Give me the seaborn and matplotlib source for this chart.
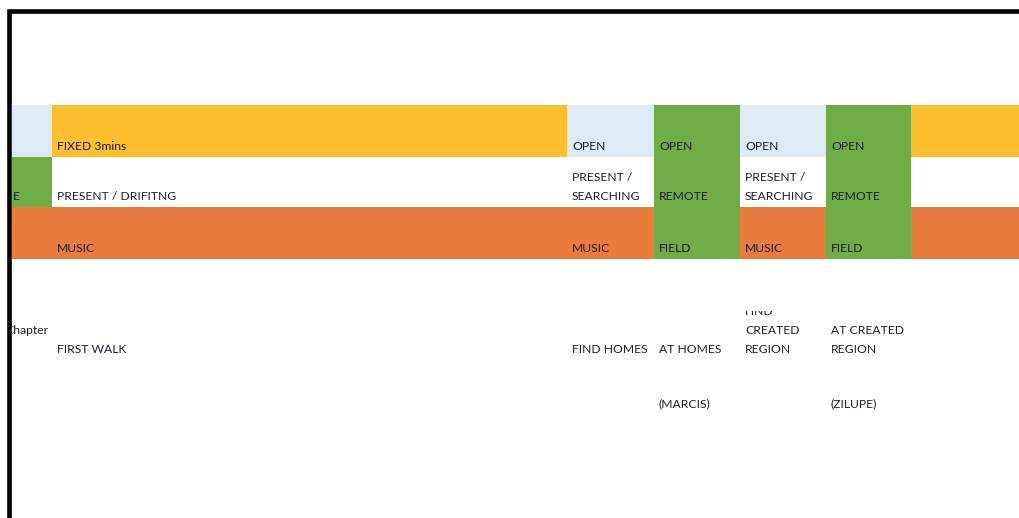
import numpy as np
import pandas as pd
import matplotlib
import matplotlib.pyplot as plt
from matplotlib.colors import ListedColormap
from matplotlib.patches import Rectangle
import seaborn as sns

# cell colours of the three coloured bands (one list per row)
band_fixed = ["blue", "yellow", "blue", "green", "blue", "green", "yellow"]
band_state = ["green", "white", "white", "green", "white", "green", "white"]
band_sound = ["orange", "orange", "orange", "green", "orange", "green", "orange"]

# cell texts
text_fixed = ["", "FIXED 3mins", "OPEN", "OPEN", "OPEN", "OPEN", ""]
text_state = ["E", "PRESENT / DRIFITNG", "PRESENT /\nSEARCHING", "REMOTE",
              "PRESENT /\nSEARCHING", "REMOTE", ""]
text_sound = ["", "MUSIC", "MUSIC", "FIELD", "MUSIC", "FIELD", ""]
text_chapter = ["Chapter\n", "FIRST WALK", "FIND HOMES", "AT HOMES",
                "FIND\nCREATED\nREGION", "AT CREATED\nREGION", ""]
text_place = ["", "", "", "(MARCIS)", "", "(ZILUPE)", ""]

palette = {"white": "#ffffff", "blue": "#ddebf7", "yellow": "#fcbf2e",
           "green": "#70ad47", "orange": "#e97c3c"}

# sheet layout in pixels
col_edges = [12, 52, 567, 654, 740, 826, 911, 1019]
row_edges = [105, 157, 207, 259, 311, 360, 414]
line_step = 19

sns.set_style("white")
plt.rcParams["font.family"] = ["Lato", "DejaVu Sans"]

names = list(palette.keys())
codes = pd.DataFrame([band_fixed, band_state, band_sound]).map(names.index)
cmap = ListedColormap([palette[n] for n in names])

fig = plt.figure(figsize=(10.19, 5.18), dpi=100)
ax = fig.add_axes([0, 0, 1, 1])
ax.set_xlim(0, 1019)
ax.set_ylim(518, 0)
ax.axis("off")

ax.pcolormesh(col_edges, row_edges[:4], codes.values, cmap=cmap,
              vmin=-0.5, vmax=len(names) - 0.5)

rows = [text_fixed, text_state, text_sound, text_chapter, text_place]
row_top = [105, 157, 207, 311, 360]
row_bot = [157, 207, 259, 360, 414]
for r, labels in enumerate(rows):
    for c, label in enumerate(labels):
        if not label:
            continue
        x0 = col_edges[c]
        x1 = col_edges[c + 1]
        tx = x0 + 5
        if c == 0:
            tx = 5 if r == 3 else 12.5
        lines = label.split("\n")
        clip = Rectangle((x0, row_top[r]), x1 - x0, row_bot[r] - row_top[r],
                         transform=ax.transData, fill=False, visible=False)
        ax.add_patch(clip)
        for i, line in enumerate(lines):
            if not line:
                continue
            base = row_bot[r] - 7 - (len(lines) - 1 - i) * line_step
            t = ax.text(tx, base, line, fontsize=8.7, color="#1e1e30",
                        ha="left", va="baseline", clip_on=True)
            t.set_clip_path(clip)

# black frame of the screenshot
ax.plot([9.5, 9.5, 1019], [518, 11, 11], color="black", lw=3.3,
        solid_joinstyle="miter", solid_capstyle="butt")

plt.savefig("out.png", dpi=100)
